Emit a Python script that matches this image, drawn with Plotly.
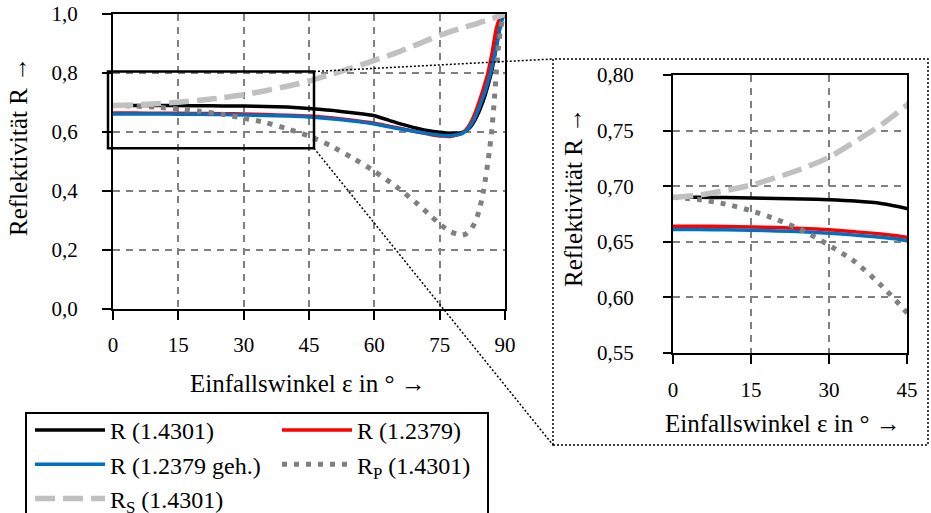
import plotly.graph_objects as go

# ---------------- data ----------------
angle = [0, 5, 10, 15, 20, 25, 30, 35, 40, 45,
         50, 55, 60, 65, 70,
         72.5, 75, 77.5, 80,
         81, 82, 83, 84, 85,
         85.5, 86, 86.5, 87, 87.5,
         88, 88.5, 89, 89.5, 90]

r_14301 = [0.6900, 0.6900, 0.6898, 0.6895, 0.6890, 0.6885, 0.6878, 0.6866, 0.6845, 0.6800,
           0.674, 0.665, 0.655, 0.632, 0.612,
           0.604, 0.599, 0.596, 0.598,
           0.604, 0.616, 0.638, 0.668, 0.705,
           0.728, 0.753, 0.780, 0.810, 0.848,
           0.890, 0.930, 0.965, 0.990, 1.000]

r_12379 = [0.6640, 0.6640, 0.6638, 0.6634, 0.6628, 0.6620, 0.6608, 0.6590, 0.6570, 0.6540,
           0.648, 0.640, 0.630, 0.615, 0.600,
           0.593, 0.587, 0.585, 0.595,
           0.607, 0.628, 0.660, 0.700, 0.745,
           0.770, 0.795, 0.830, 0.865, 0.910,
           0.950, 0.975, 0.990, 0.997, 1.000]

r_12379_geh = [0.6610, 0.6610, 0.6608, 0.6604, 0.6598, 0.6590, 0.6578, 0.6560, 0.6540, 0.6510,
               0.645, 0.637, 0.627, 0.613, 0.600,
               0.594, 0.589, 0.588, 0.594,
               0.603, 0.620, 0.645, 0.680, 0.720,
               0.740, 0.765, 0.790, 0.820, 0.855,
               0.885, 0.925, 0.965, 0.990, 1.000]

rp_14301 = [0.690, 0.688, 0.684, 0.678, 0.670, 0.660, 0.647, 0.632, 0.611, 0.586,
            0.553, 0.512, 0.467, 0.415, 0.355,
            0.322, 0.288, 0.262, 0.250,
            0.254, 0.266, 0.290, 0.330, 0.395,
            0.440, 0.490, 0.545, 0.610, 0.700,
            0.800, 0.890, 0.950, 0.985, 1.000]

rs_14301 = [0.690, 0.692, 0.696, 0.701, 0.708, 0.716, 0.726, 0.740, 0.755, 0.773,
            0.795, 0.818, 0.843, 0.868, 0.898,
            0.913, 0.928, 0.940, 0.952,
            0.956, 0.961, 0.965, 0.970, 0.975,
            0.977, 0.980, 0.982, 0.985, 0.987,
            0.990, 0.992, 0.995, 0.997, 1.000]

main_xticks = [0, 15, 30, 45, 60, 75, 90]
main_yticks = [0.0, 0.2, 0.4, 0.6, 0.8, 1.0]
zoom_xticks = [0, 15, 30, 45]
zoom_yticks = [0.55, 0.60, 0.65, 0.70, 0.75, 0.80]
main_xrange = [0, 90]
main_yrange = [0, 1.0]
zoom_xrange = [0, 45]
zoom_yrange = [0.55, 0.80]

x_title = "Einfallswinkel ε in ° →"
y_title = "Reflektivität R →"

# ---------------- layout helpers ----------------
W, H = 931, 513
FONT = "Liberation Serif"


def fx(px):
    return px / W


def fy(py):
    return 1 - py / H


main_dom_x = [fx(113), fx(505)]
main_dom_y = [fy(309), fy(14)]
zoom_dom_x = [fx(673), fx(907)]
zoom_dom_y = [fy(353), fy(75)]


def to_paper(v, dom, rng):
    return dom[0] + (v - rng[0]) / (rng[1] - rng[0]) * (dom[1] - dom[0])


series = [
    ("R (1.4301)", r_14301, dict(color="#000000", width=3.5), "legend"),
    ("R (1.2379)", r_12379, dict(color="#FF0000", width=3.5), "legend2"),
    ("R (1.2379 geh.)", r_12379_geh, dict(color="#0070C0", width=3.5), "legend"),
    ("R<sub>P</sub> (1.4301)", rp_14301, dict(color="#808080", width=5, dash="5px,7px"), "legend2"),
    ("R<sub>S</sub> (1.4301)", rs_14301, dict(color="#C0C0C0", width=5.5, dash="20px,8px"), "legend"),
]

fig = go.Figure()
for name, vals, line, lg in series:
    fig.add_trace(go.Scatter(x=angle, y=vals, mode="lines", name=name,
                             line=dict(shape="spline", smoothing=0.6, **line),
                             xaxis="x", yaxis="y", legend=lg))
for name, vals, line, lg in series:
    fig.add_trace(go.Scatter(x=angle, y=vals, mode="lines", name=name,
                             line=dict(shape="spline", smoothing=0.6, **line),
                             xaxis="x2", yaxis="y2", showlegend=False))

axis_common = dict(showline=True, linecolor="black", linewidth=2, mirror=True,
                   ticks="outside", tickcolor="black", tickwidth=2,
                   showgrid=True, gridcolor="#808080", gridwidth=1.5, griddash="7px,6px",
                   zeroline=False, tickfont=dict(family=FONT, size=21, color="black"))

fig.update_layout(
    width=W, height=H,
    margin=dict(l=0, r=0, t=0, b=0, autoexpand=False),
    paper_bgcolor="white", plot_bgcolor="white",
    separators=",.",
    font=dict(family=FONT, size=24, color="black"),
    xaxis=dict(domain=main_dom_x, range=main_xrange, tickvals=main_xticks,
               ticklen=9, ticklabelstandoff=7, **axis_common),
    yaxis=dict(domain=main_dom_y, range=main_yrange, tickvals=main_yticks,
               tickformat=".1f", ticklen=9, ticklabelstandoff=20, **axis_common),
    xaxis2=dict(domain=zoom_dom_x, range=zoom_xrange, tickvals=zoom_xticks,
                anchor="y2", ticklen=9, ticklabelstandoff=8, **axis_common),
    yaxis2=dict(domain=zoom_dom_y, range=zoom_yrange, tickvals=zoom_yticks,
                anchor="x2", tickformat=".2f", ticklen=8, ticklabelstandoff=25, **axis_common),
    legend=dict(x=fx(30), y=fy(408), xanchor="left", yanchor="top",
                orientation="v", bgcolor="rgba(0,0,0,0)", borderwidth=0,
                itemwidth=70, font=dict(family=FONT, size=24), tracegroupgap=0),
    legend2=dict(x=fx(277), y=fy(408), xanchor="left", yanchor="top",
                 orientation="v", bgcolor="rgba(0,0,0,0)", borderwidth=0,
                 itemwidth=70, font=dict(family=FONT, size=24), tracegroupgap=0),
    showlegend=True,
)

# axis titles
ann = dict(xref="paper", yref="paper", showarrow=False, xanchor="center", yanchor="middle",
           font=dict(family=FONT, size=25, color="black"))
fig.add_annotation(text=x_title, x=fx(308), y=fy(383), **ann)
fig.add_annotation(text=y_title, x=fx(19), y=fy(147), textangle=-90, **ann)
fig.add_annotation(text=x_title, x=fx(783), y=fy(423), **ann)
fig.add_annotation(text=y_title, x=fx(573), y=fy(198), textangle=-90, **ann)

# zoom rectangle on the main chart (region of the inset)
padx, pady = 5 / W, 1.5 / H
zx0 = to_paper(zoom_xrange[0], main_dom_x, main_xrange) - padx
zx1 = to_paper(zoom_xrange[1], main_dom_x, main_xrange) + padx
zy0 = to_paper(zoom_yrange[0], main_dom_y, main_yrange) - pady
zy1 = to_paper(zoom_yrange[1], main_dom_y, main_yrange) + pady
fig.add_shape(type="rect", xref="paper", yref="paper", x0=zx0, x1=zx1, y0=zy0, y1=zy1,
              line=dict(color="black", width=2.5))

# dotted inset frame
bx0, bx1, by0, by1 = fx(553), fx(928), fy(445), fy(59)
fig.add_shape(type="rect", xref="paper", yref="paper", x0=bx0, x1=bx1, y0=by0, y1=by1,
              line=dict(color="black", width=1.5, dash="2px,2px"))
# connector lines
fig.add_shape(type="line", xref="paper", yref="paper", x0=zx1, y0=zy1, x1=bx0, y1=by1,
              line=dict(color="black", width=1.5, dash="2px,2px"))
fig.add_shape(type="line", xref="paper", yref="paper", x0=zx1, y0=zy0, x1=bx0, y1=by0,
              line=dict(color="black", width=1.5, dash="2px,2px"))

# legend frame
fig.add_shape(type="rect", xref="paper", yref="paper", x0=fx(26), x1=fx(488),
              y0=fy(525), y1=fy(413), line=dict(color="black", width=2))

fig.write_html("out.html")
